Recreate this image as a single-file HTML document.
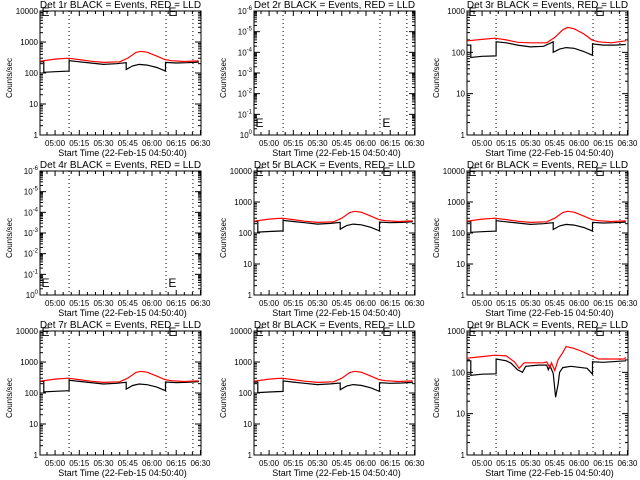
<!DOCTYPE html>
<html><head><meta charset="utf-8">
<style>
html,body{margin:0;padding:0;background:#fff;}
svg{display:block;font-family:"Liberation Sans",sans-serif;}
text{fill:#000;}
</style></head>
<body>
<svg id="chart" width="640" height="480" viewBox="0 0 640 480" xmlns="http://www.w3.org/2000/svg"></svg>
<script>
// ---- data (times as HH:MM, values in counts/sec) ----
const panelTitles = ["Det 1r BLACK = Events, RED = LLD","Det 2r BLACK = Events, RED = LLD","Det 3r BLACK = Events, RED = LLD",
 "Det 4r BLACK = Events, RED = LLD","Det 5r BLACK = Events, RED = LLD","Det 6r BLACK = Events, RED = LLD",
 "Det 7r BLACK = Events, RED = LLD","Det 8r BLACK = Events, RED = LLD","Det 9r BLACK = Events, RED = LLD"];
const yTopExp = [4,-6,3,-6,4,4,4,4,3];
const xTickLabels = ["05:00","05:15","05:30","05:45","06:00","06:15","06:30"];
const dottedTimes = ["05:08:40","06:08:40","06:25:20"];

const t1Black = ["04:50:40","04:53","04:53","05:00","05:08:40","05:08:40","05:15","05:22","05:30","05:38","05:44","05:44","05:48","05:52","05:57","06:03","06:08:20","06:08:20","06:15","06:22","06:29"];
const v1Black = [230,230,105,110,115,250,230,210,190,200,215,130,170,190,180,150,115,220,210,215,225];
const t1Red = ["04:50:40","05:00","05:08","05:15","05:22","05:30","05:40","05:45","05:50","05:53","05:57","06:03","06:08","06:12","06:20","06:29"];
const v1Red = [240,280,300,270,240,220,230,300,460,500,470,350,270,250,235,245];

const t3Black = ["04:50:40","04:53","04:53","05:00","05:08:40","05:08:40","05:15","05:22","05:30","05:38","05:44","05:44","05:48","05:52","05:57","06:03","06:08:20","06:08:20","06:15","06:22","06:29"];
const v3Black = [150,150,75,80,82,180,170,150,135,140,180,100,120,130,125,105,85,160,150,150,155];
const t3Red = ["04:50:40","05:00","05:08","05:15","05:22","05:30","05:40","05:45","05:50","05:53","05:57","06:03","06:08","06:12","06:20","06:29"];
const v3Red = [190,205,220,200,175,170,170,230,350,400,370,280,200,180,170,190];

const t9Black = ["04:50:40","04:53","04:53","05:00","05:08:40","05:08:40","05:15","05:18","05:22","05:25","05:27","05:35","05:40","05:41","05:42","05:44","05:45:30","05:47","05:48","05:50","05:55","06:05","06:08:20","06:08:20","06:15","06:29"];
const v9Black = [190,190,85,90,92,210,190,165,115,100,140,150,150,115,145,95,25,50,100,130,140,125,90,180,175,190];
const t9Red = ["04:50:40","05:00","05:08","05:15","05:20","05:23","05:26","05:38","05:40","05:42","05:43","05:45","05:47","05:50","05:52","05:57","06:02","06:08","06:12","06:28","06:29"];
const v9Red = [220,240,260,250,180,125,170,170,180,130,170,110,200,300,420,380,320,250,210,210,230];

const blackTimes = [t1Black,null,t3Black,null,t1Black,t1Black,t1Black,t1Black,t9Black];
const blackVals  = [v1Black,null,v3Black,null,v1Black.map(v=>v*1.02),v1Black,v1Black.map(v=>v*1.03),v1Black.map(v=>v*0.98),v9Black];
const redTimes = [t1Red,null,t3Red,null,t1Red,t1Red,t1Red,t1Red,t9Red];
const redVals  = [v1Red,null,v3Red,null,v1Red,v1Red,v1Red,v1Red,v9Red];

// ---- drawing ----
const svg = document.getElementById('chart');
const NS = "http://www.w3.org/2000/svg";
function mk(tag, attrs, parent){const e=document.createElementNS(NS,tag);for(const k in attrs)e.setAttribute(k,attrs[k]);(parent||svg).appendChild(e);return e;}
function tmin(s){const p=s.split(':').map(Number);return p[0]*60+p[1]+(p[2]||0)/60;}
const T0 = tmin("04:50:40"), T1 = tmin("06:30:20");
const PW = 161, PH = 124;
const colX = [40,254,467], rowY = [11,171,331];

for(let i=0;i<9;i++){
  const x0 = colX[i%3], y0 = rowY[Math.floor(i/3)];
  const g = mk('g',{});
  
  
  const top = yTopExp[i];
  const logMode = top > 0;
  const nDec = logMode ? top : 6;
  const xs = t => x0 + (t - T0)/(T1 - T0)*PW;
  const ys = v => y0 + PH - Math.log10(v)/nDec*PH;

  const tt = mk('text',{x:x0+PW/2,y:y0-3,'text-anchor':'middle','font-size':'10'},g);
  tt.textContent = panelTitles[i];
  
  
  const yl = mk('text',{x:0,y:0,'text-anchor':'middle','font-size':'8',transform:`translate(${x0-28},${y0+PH/2+5}) rotate(-90)`},g);
  yl.textContent = "Counts/sec";
  
  
  const xl = mk('text',{x:x0+PW/2+2,y:y0+PH+21,'text-anchor':'middle','font-size':'9'},g);
  xl.textContent = "Start Time (22-Feb-15 04:50:40)";
  
  

  const fr = mk('rect',{x:x0,y:y0,width:PW,height:PH,fill:'none',stroke:'#000','stroke-width':1},g);
  
  

  for(let m=tmin("04:55"); m<=T1; m+=5){
    const x = xs(m); const major = (m % 15)===0;
    const L = major?5:3;
    mk('line',{x1:x,y1:y0+PH,x2:x,y2:y0+PH-L,stroke:'#000'},g);
    mk('line',{x1:x,y1:y0,x2:x,y2:y0+L,stroke:'#000'},g);
  }
  xTickLabels.forEach(s=>{
    const tl = mk('text',{x:xs(tmin(s)),y:y0+PH+11,'text-anchor':'middle','font-size':'8'},g);
    tl.textContent = s;
    
    
  });
  for(let d=0; d<=nDec; d++){
    const y = y0+PH - d/nDec*PH;
    mk('line',{x1:x0,y1:y,x2:x0+6,y2:y,stroke:'#000'},g);
    mk('line',{x1:x0+PW,y1:y,x2:x0+PW-6,y2:y,stroke:'#000'},g);
    if(d<nDec) for(let k=2;k<10;k++){
      const yy = y - Math.log10(k)/nDec*PH;
      mk('line',{x1:x0,y1:yy,x2:x0+3,y2:yy,stroke:'#000'},g);
      mk('line',{x1:x0+PW,y1:yy,x2:x0+PW-3,y2:yy,stroke:'#000'},g);
    }
    const lab = mk('text',{x:x0-2,y:y+3,'text-anchor':'end','font-size':'8'},g);
    
    
    if(logMode){ lab.textContent = String(Math.pow(10,d)); }
    else {
      const e2 = d===0?"0":String(-d);
      lab.textContent = "10";
      const sp = mk('tspan',{dy:-4,'font-size':'6'},lab); sp.textContent = e2;
    }
  }
  dottedTimes.forEach(s=>{
    const l = mk('line',{x1:xs(tmin(s)),y1:y0,x2:xs(tmin(s)),y2:y0+PH,stroke:'#000','stroke-dasharray':'1,3'},g);
    
    
  });
  const eY = logMode ? y0+5 : y0+PH-8;
  [T0+0.3, tmin("06:09:30")].forEach(t=>{
    const e = mk('text',{x:xs(t)+1,y:eY,'font-size':'12'},g);
    e.textContent = "E";
    
    
  });
  if(blackTimes[i]){
    const pb = blackTimes[i].map((s,k)=>xs(tmin(s)).toFixed(1)+','+ys(blackVals[i][k]).toFixed(1)).join(' ');
    const lb = mk('polyline',{points:pb,fill:'none',stroke:'#000','stroke-width':1.2},g);
    
    
    const pr = redTimes[i].map((s,k)=>xs(tmin(s)).toFixed(1)+','+ys(redVals[i][k]).toFixed(1)).join(' ');
    const lr = mk('polyline',{points:pr,fill:'none',stroke:'#f00','stroke-width':1.2},g);
    
    
  }
}
</script>
</body></html>
